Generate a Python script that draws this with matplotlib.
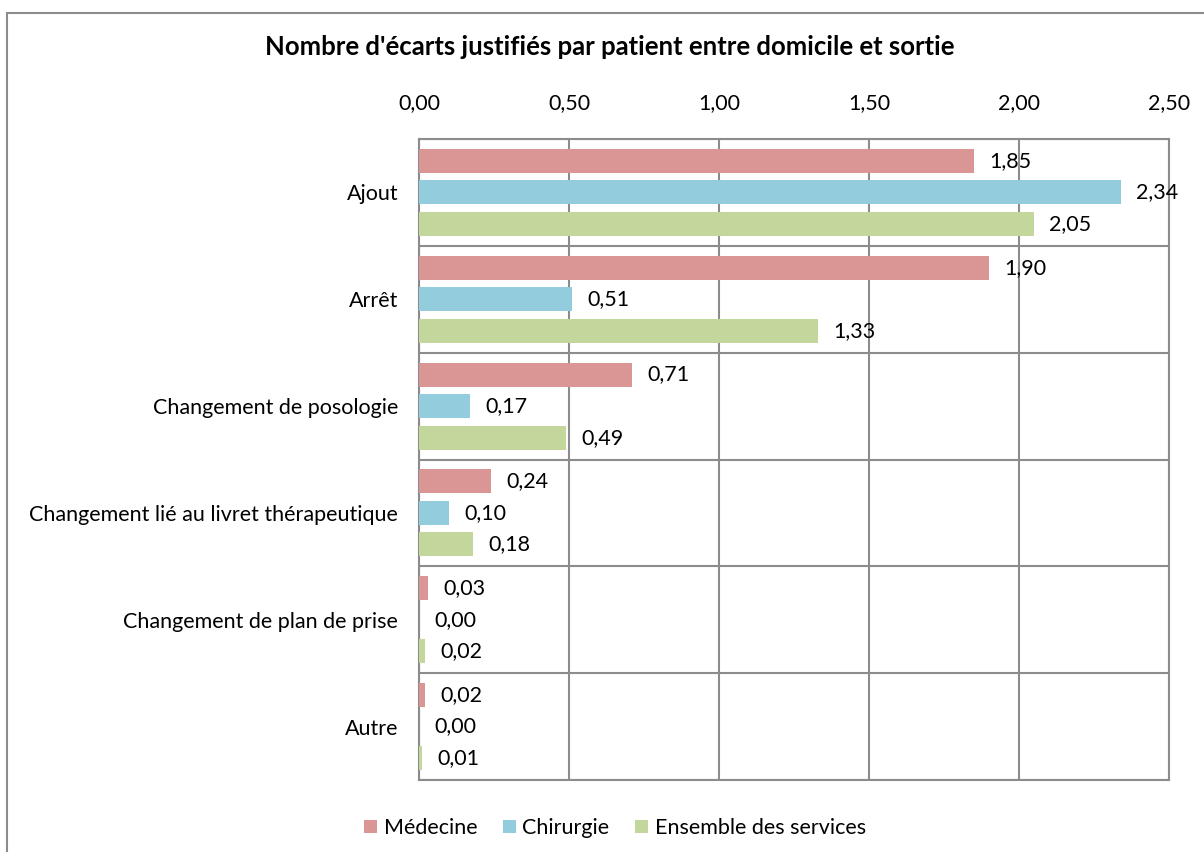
import matplotlib.pyplot as plt
import matplotlib.patches as mpatches
import numpy as np

categories = ["Ajout", "Arrêt", "Changement de posologie",
              "Changement lié au livret thérapeutique",
              "Changement de plan de prise", "Autre"]
series = ["Médecine", "Chirurgie", "Ensemble des services"]
medecine = [1.85, 1.90, 0.71, 0.24, 0.03, 0.02]
chirurgie = [2.34, 0.51, 0.17, 0.10, 0.00, 0.00]
ensemble = [2.05, 1.33, 0.49, 0.18, 0.02, 0.01]
xticks = [0, 0.5, 1.0, 1.5, 2.0, 2.5]

colors = ["#D99694", "#93CDDD", "#C3D69B"]
grid_col = "#8C8C8C"
fs = 15.5

plt.rcParams['font.family'] = ['Lato', 'DejaVu Sans']

def fr(v):
    return f"{v:.2f}".replace(".", ",")

fig = plt.figure(figsize=(12.04, 8.52), dpi=100)
ax = fig.add_axes([419/1204, 1-780/852, 750/1204, 641/852])

y = np.arange(len(categories))
off = 0.295
h = 0.225
for k, (vals, col, name) in enumerate(zip([medecine, chirurgie, ensemble], colors, series)):
    pos = y + (k - 1) * off
    ax.barh(pos, vals, height=h, color=col, label=name, zorder=3)
    for p, v in zip(pos, vals):
        ax.annotate(fr(v), (v, p), xytext=(11, 0), textcoords="offset points",
                    va="center", ha="left", fontsize=fs, color="black", zorder=4)

ax.set_xlim(0, 2.5)
ax.set_ylim(len(categories) - 0.5, -0.5)
ax.xaxis.tick_top()
ax.set_xticks(xticks)
ax.set_xticklabels([fr(t) for t in xticks], fontsize=fs)
ax.set_yticks(y)
ax.set_yticklabels(categories, fontsize=fs)
ax.set_yticks(np.arange(len(categories) + 1) - 0.5, minor=True)
ax.tick_params(axis="both", which="both", length=0)
ax.tick_params(axis="x", pad=19)
ax.tick_params(axis="y", pad=15)
ax.grid(axis="x", color=grid_col, linewidth=1.5, zorder=0)
ax.grid(axis="y", which="minor", color=grid_col, linewidth=1.5, zorder=0)
for s in ax.spines.values():
    s.set_color(grid_col)
    s.set_linewidth(1.5)

fig.text(610/1204, 1-47/852, "Nombre d'écarts justifiés par patient entre domicile et sortie",
         ha="center", va="center", fontsize=18.5, fontweight="bold")

fig.legend(loc="center", bbox_to_anchor=(615/1204, 1-828/852), ncol=3, frameon=False,
           fontsize=fs, handlelength=0.6, handleheight=0.6, handletextpad=0.3,
           columnspacing=1.2)

fig.patches.append(mpatches.Rectangle((7/1204, -0.05), 1.2, 1.05 - 12.5/852,
                                      transform=fig.transFigure, fill=False,
                                      edgecolor="#8C8C8C", linewidth=1.5))

fig.savefig("out.png", dpi=100)
